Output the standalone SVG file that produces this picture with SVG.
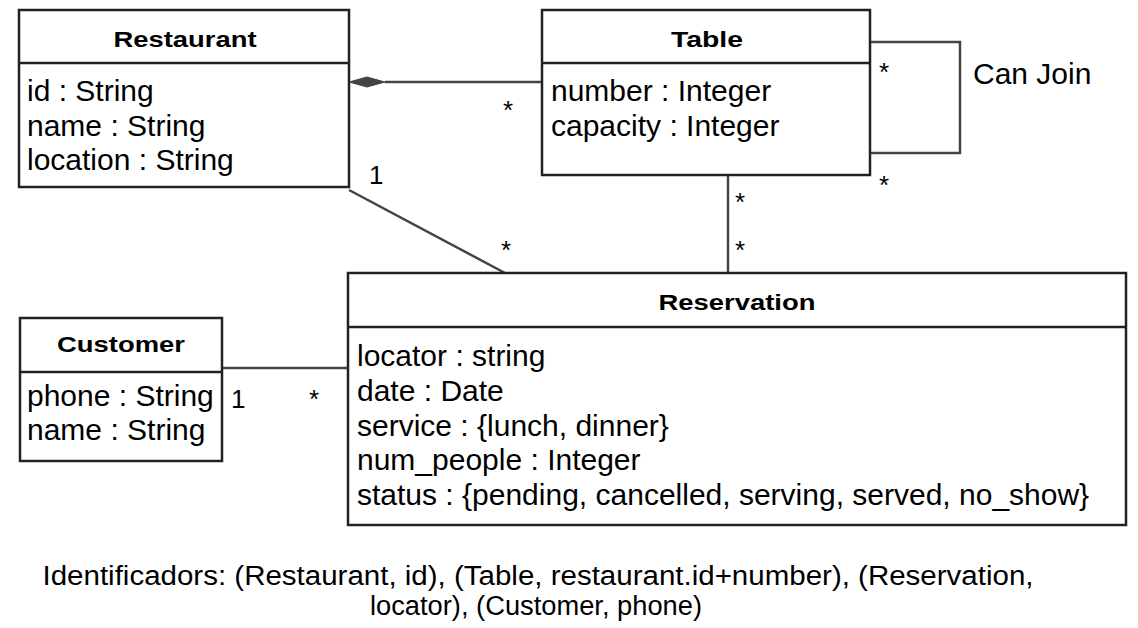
<svg xmlns="http://www.w3.org/2000/svg" width="1138" height="628" viewBox="0 0 1138 628">
<style>
.box{fill:#fff;stroke:#222;stroke-width:2.5}
.div{stroke:#222;stroke-width:2.5}
.t{font-family:"Liberation Sans",Arial,sans-serif;font-size:30px;fill:#000}
.h{font-family:"Liberation Sans",Arial,sans-serif;font-size:22px;font-weight:bold;fill:#000;text-anchor:middle}
.c{stroke:#444;stroke-width:2.5;fill:none}
.m{font-family:"Liberation Sans",Arial,sans-serif;font-size:26px;fill:#000}
.f{font-family:"Liberation Sans",Arial,sans-serif;font-size:27px;fill:#000;text-anchor:middle}
</style>
<rect width="1138" height="628" fill="#fff"/>
<g id="connectors">
<path class="c" d="M385,82 L542,82"/>
<path d="M349,82 L367,77 L385,82 L367,87 Z" fill="#444" stroke="#444" stroke-width="1"/>
<path class="c" d="M349,190 L505,273"/>
<path class="c" d="M728,175 L728,273"/>
<path class="c" d="M222,368 L348,368"/>
<path class="c" d="M870,42 L960,42 L960,153 L870,153"/>
<text class="m" x="503" y="119">*</text>
<text class="m" x="369" y="184">1</text>
<text class="m" x="501" y="259">*</text>
<text class="m" x="735" y="211">*</text>
<text class="m" x="735" y="259">*</text>
<text class="m" x="879" y="81">*</text>
<text class="m" x="879" y="194">*</text>
<text class="t" x="973" y="84">Can Join</text>
<text class="m" x="231" y="408">1</text>
<text class="m" x="309" y="408">*</text>
</g>
<g id="restaurant">
<rect class="box" x="19" y="10" width="330" height="177"/>
<line class="div" x1="19" y1="63" x2="349" y2="63"/>
<text class="h" x="185" y="47" textLength="143" lengthAdjust="spacingAndGlyphs">Restaurant</text>
<text class="t" x="27" y="101">id : String</text>
<text class="t" x="27" y="136">name : String</text>
<text class="t" x="27" y="170">location : String</text>
</g>
<g id="table">
<rect class="box" x="542" y="10" width="328" height="165"/>
<line class="div" x1="542" y1="63" x2="870" y2="63"/>
<text class="h" x="707" y="47" textLength="72" lengthAdjust="spacingAndGlyphs">Table</text>
<text class="t" x="551" y="101">number : Integer</text>
<text class="t" x="551" y="136">capacity : Integer</text>
</g>
<g id="reservation">
<rect class="box" x="348" y="273" width="778" height="252"/>
<line class="div" x1="348" y1="327" x2="1126" y2="327"/>
<text class="h" x="737" y="310" textLength="157" lengthAdjust="spacingAndGlyphs">Reservation</text>
<text class="t" x="357" y="366">locator : string</text>
<text class="t" x="357" y="401">date : Date</text>
<text class="t" x="357" y="436">service : {lunch, dinner}</text>
<text class="t" x="357" y="470">num_people : Integer</text>
<text class="t" x="357" y="505">status : {pending, cancelled, serving, served, no_show}</text>
</g>
<g id="customer">
<rect class="box" x="20" y="318" width="202" height="143"/>
<line class="div" x1="20" y1="372" x2="222" y2="372"/>
<text class="h" x="121" y="352" textLength="128" lengthAdjust="spacingAndGlyphs">Customer</text>
<text class="t" x="27" y="406">phone : String</text>
<text class="t" x="27" y="440">name : String</text>
</g>
<g id="footer">
<text class="f" x="538" y="585" textLength="991" lengthAdjust="spacingAndGlyphs">Identificadors: (Restaurant, id), (Table, restaurant.id+number), (Reservation,</text>
<text class="f" x="536" y="615" textLength="332" lengthAdjust="spacingAndGlyphs">locator), (Customer, phone)</text>
</g>
</svg>
